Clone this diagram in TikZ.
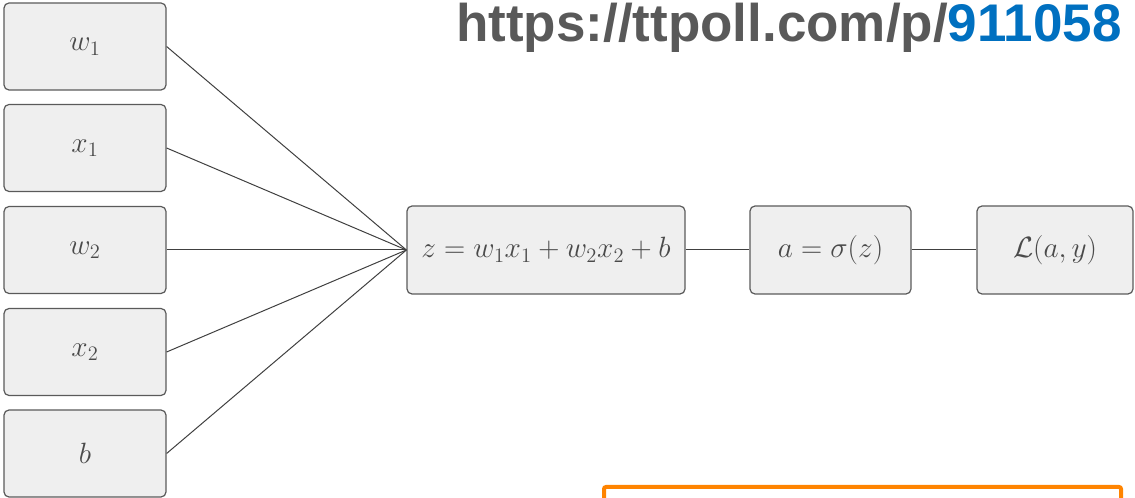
\RequirePackage{fix-cm}
\documentclass[tikz,border=0pt]{standalone}
\usepackage{fontspec}
\newfontfamily\urlfont{Liberation Sans}
\definecolor{boxfill}{HTML}{EFEFEF}
\definecolor{boxline}{HTML}{5A5A5A}
\definecolor{txt}{HTML}{4A4A4A}
\definecolor{urlblue}{HTML}{0070C0}
\definecolor{urlgray}{HTML}{595959}
\definecolor{frameorange}{HTML}{FF8400}
\def\u{0.75pt}
\tikzset{
  box/.style={draw=boxline, fill=boxfill, line width=0.9pt, rounded corners=5*\u,
    inner sep=0pt, text=txt, font=\fontsize{22pt}{25pt}\selectfont},
  leftbox/.style={box, minimum width=162*\u, minimum height=87*\u},
  conn/.style={draw=black!75, line width=0.75pt}
}
\begin{document}
\begin{tikzpicture}[x=0.75pt, y=-0.75pt]
\useasboundingbox (0,0) rectangle (1135,498);
\clip (0,0) rectangle (1135,498);
\node[leftbox] (w1) at (85,46.5) {$w_1$};
\node[leftbox] (x1) at (85,148) {$x_1$};
\node[leftbox] (w2) at (85,250) {$w_2$};
\node[leftbox] (x2) at (85,352) {$x_2$};
\node[leftbox] (b) at (85,453.5) {$b$};
\node[box, minimum width=278*\u, minimum height=88*\u] (z) at (546,250) {$z = w_1x_1 + w_2x_2 + b$};
\node[box, minimum width=161*\u, minimum height=88*\u] (a) at (830.5,250) {$a = \sigma(z)$};
\node[box, minimum width=156*\u, minimum height=88*\u] (L) at (1055,250) {$\mathcal{L}(a,y)$};
\foreach \n in {w1,x1,w2,x2,b} \draw[conn] (\n.east) -- (z.west);
\draw[conn] (z.east) -- (a.west);
\draw[conn] (a.east) -- (L.west);
\node[anchor=base east, inner sep=0pt, font=\urlfont\bfseries\fontsize{39.75pt}{42pt}\selectfont, text=urlgray] (url) at (1122,42) {https://ttpoll.com/p/\textcolor{urlblue}{911058}};
\draw[frameorange, line width=3pt, rounded corners=2*\u] (604,530) -- (604,487) -- (1121,487) -- (1121,530);
\end{tikzpicture}
\end{document}
